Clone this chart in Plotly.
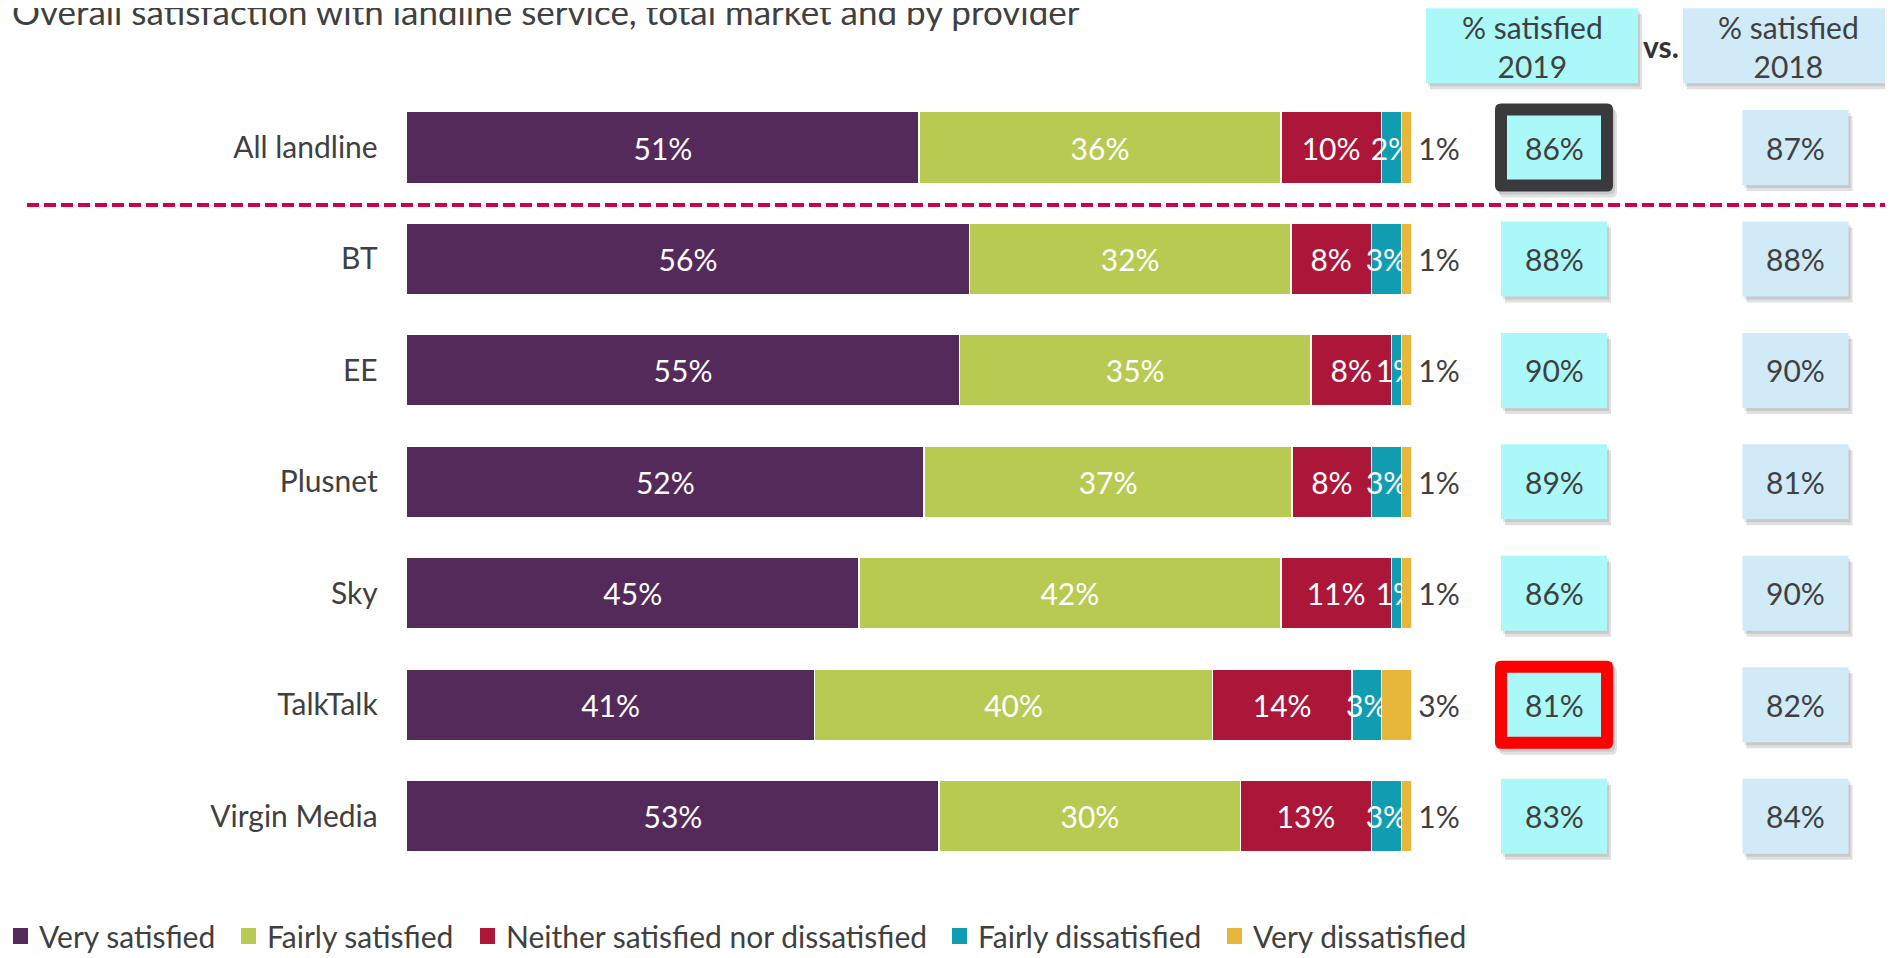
import plotly.graph_objects as go

# ---------------- data ----------------
categories = ["All landline", "BT", "EE", "Plusnet", "Sky", "TalkTalk", "Virgin Media"]
series_names = ["Very satisfied", "Fairly satisfied",
                "Neither satisfied nor dissatisfied", "Fairly dissatisfied",
                "Very dissatisfied"]
very_satisfied = [51, 56, 55, 52, 45, 41, 53]
fairly_satisfied = [36, 32, 35, 37, 42, 40, 30]
neither = [10, 8, 8, 8, 11, 14, 13]
fairly_dissatisfied = [2, 3, 1, 3, 1, 3, 3]
very_dissatisfied = [1, 1, 1, 1, 1, 3, 1]
satisfied_2019 = [86, 88, 90, 89, 86, 81, 83]
satisfied_2018 = [87, 88, 90, 81, 90, 82, 84]
highlighted = {"All landline": "#3A3A3C", "TalkTalk": "#FF0000"}

title_text = "Overall satisfaction with landline service, total market and by provider"
header_2019 = "% satisfied<br>2019"
header_2018 = "% satisfied<br>2018"

# ---------------- style ----------------
colors = ["#542A5B", "#B8CA52", "#AC1638", "#109DB1", "#E6B73A"]
FONT = "Lato"
FS = 30
DARK = "#404040"
CYAN = "#ABF8F8"
LBLUE = "#D0EAF8"
LEGEND_MARKER_LEFT = [13, 241, 480, 952, 1227]   # page pixels
LEGEND_Y = 936

# the page body has an 8px margin; the figure fills the rest of the window
OFF = 8
FW, FH = 1893 - OFF, 958 - OFF

def px_x(p):  # page pixel -> paper fraction
    return (p - OFF) / FW

def px_y(p):
    return 1 - (p - OFF) / FH

BAR_LEFT, BAR_RIGHT = 406.7, 1411.5
ROW_TOP_CENTER, ROW_STEP = 147.5, 111.45
n = len(categories)
dom_top = ROW_TOP_CENTER - ROW_STEP / 2
dom_bot = ROW_TOP_CENTER + ROW_STEP * (n - 1) + ROW_STEP / 2

fig = go.Figure()
series = [very_satisfied, fairly_satisfied, neither, fairly_dissatisfied, very_dissatisfied]
for k, (name, vals) in enumerate(zip(series_names, series)):
    last = k == len(series) - 1
    fig.add_trace(go.Bar(
        name=name, y=categories, x=vals, orientation="h",
        marker=dict(color=colors[k], line=dict(color="white", width=1.5)),
        text=[("\u2009" if last else "") + f"{v}%" for v in vals],
        textposition="outside" if last else "inside",
        insidetextanchor="middle",
        textangle=0,
        constraintext="none",
        cliponaxis=False,
        textfont=dict(family=FONT, size=FS, color=DARK if last else "white"),
        outsidetextfont=dict(family=FONT, size=FS, color=DARK),
        insidetextfont=dict(family=FONT, size=FS, color="white"),
        hoverinfo="skip",
        showlegend=False,
    ))

shapes = []
annotations = []

# legend (drawn by hand so it can sit flush left like the original)
for k, name in enumerate(series_names):
    xl = LEGEND_MARKER_LEFT[k]
    shapes.append(dict(type="rect", xref="paper", yref="paper",
                       x0=px_x(xl), x1=px_x(xl + 15),
                       y0=px_y(LEGEND_Y + 8), y1=px_y(LEGEND_Y - 8),
                       line=dict(width=0), fillcolor=colors[k]))
    annotations.append(dict(xref="paper", yref="paper", x=px_x(xl + 24), y=px_y(LEGEND_Y),
                            xanchor="left", yanchor="middle", text=name, showarrow=False,
                            font=dict(family=FONT, size=FS, color=DARK)))

# dashed separator
shapes.append(dict(type="line", xref="paper", yref="paper",
                   x0=px_x(27), x1=px_x(1886), y0=px_y(205), y1=px_y(205),
                   line=dict(color="#CC004C", width=4, dash="12px,5px")))

def dy(p):  # pixels -> data units on the category axis
    return p / ROW_STEP

SHADOWS = [(2, 3, 0.10), (4, 6, 0.12)]

def add_box(xc, w, i, half_h, fill, shadow=True):
    x0, x1 = px_x(xc - w / 2), px_x(xc + w / 2)
    if shadow:
        for ox, oy, a in SHADOWS:
            shapes.append(dict(type="rect", xref="paper", yref="y",
                               x0=x0 + ox / FW, x1=x1 + ox / FW,
                               y0=i - dy(half_h) + dy(oy), y1=i + dy(half_h) + dy(oy),
                               line=dict(width=0), fillcolor=f"rgba(0,0,0,{a})"))
    shapes.append(dict(type="rect", xref="paper", yref="y",
                       x0=x0, x1=x1, y0=i - dy(half_h), y1=i + dy(half_h),
                       line=dict(width=0), fillcolor=fill))

def rounded_path(x0, x1, y0, y1, rx, ry):
    return (f"M{x0+rx},{y0} L{x1-rx},{y0} Q{x1},{y0} {x1},{y0+ry} "
            f"L{x1},{y1-ry} Q{x1},{y1} {x1-rx},{y1} L{x0+rx},{y1} "
            f"Q{x0},{y1} {x0},{y1-ry} L{x0},{y0+ry} Q{x0},{y0} {x0+rx},{y0} Z")

C19, C18 = 1554, 1795.5
box_font = dict(family=FONT, size=FS, color=DARK)
for i, cat in enumerate(categories):
    if cat in highlighted:
        for ox, oy, a in SHADOWS:
            shapes.append(dict(type="path", xref="paper", yref="y",
                               path=rounded_path(px_x(C19 - 59 + ox), px_x(C19 + 59 + ox),
                                                 i - dy(44) + dy(oy), i + dy(44) + dy(oy),
                                                 6 / FW, dy(6)),
                               line=dict(width=0), fillcolor=f"rgba(0,0,0,{a})"))
        shapes.append(dict(type="path", xref="paper", yref="y",
                           path=rounded_path(px_x(C19 - 59), px_x(C19 + 59),
                                             i - dy(44), i + dy(44), 6 / FW, dy(6)),
                           line=dict(width=0), fillcolor=highlighted[cat]))
        add_box(C19, 94, i, 32, CYAN, shadow=False)
    else:
        add_box(C19, 106, i, 37.5, CYAN)
    add_box(C18, 106, i, 37.5, LBLUE)
    annotations.append(dict(xref="paper", yref="y", x=px_x(C19), y=i,
                            xanchor="center", yanchor="middle",
                            text=f"{satisfied_2019[i]}%", showarrow=False, font=box_font))
    annotations.append(dict(xref="paper", yref="y", x=px_x(C18), y=i,
                            xanchor="center", yanchor="middle",
                            text=f"{satisfied_2018[i]}%", showarrow=False, font=box_font))

# header boxes
for (xa, xb, fill) in [(1426, 1638, CYAN), (1683, 1893, LBLUE)]:
    for ox, oy, a in SHADOWS:
        shapes.append(dict(type="rect", xref="paper", yref="paper",
                           x0=px_x(xa + ox), x1=px_x(xb + ox),
                           y0=px_y(83.3 + oy), y1=px_y(8.3 + oy),
                           line=dict(width=0), fillcolor=f"rgba(0,0,0,{a})"))
    shapes.append(dict(type="rect", xref="paper", yref="paper",
                       x0=px_x(xa), x1=px_x(xb), y0=px_y(83.3), y1=px_y(8.3),
                       line=dict(width=0), fillcolor=fill))
annotations.append(dict(xref="paper", yref="paper", x=px_x(1532), y=px_y(46),
                        xanchor="center", yanchor="middle",
                        text=header_2019, showarrow=False, align="center", font=box_font))
annotations.append(dict(xref="paper", yref="paper", x=px_x(1788), y=px_y(46),
                        xanchor="center", yanchor="middle",
                        text=header_2018, showarrow=False, align="center", font=box_font))
annotations.append(dict(xref="paper", yref="paper", x=px_x(1661), y=px_y(46),
                        xanchor="center", yanchor="middle",
                        text="<b>vs.</b>", showarrow=False,
                        font=dict(family=FONT, size=FS, color="#333333")))
annotations.append(dict(xref="paper", yref="paper", x=px_x(10), y=px_y(11),
                        xanchor="left", yanchor="middle",
                        text=title_text, showarrow=False,
                        font=dict(family=FONT, size=35, color=DARK)))

fig.update_layout(
    width=FW, height=FH, autosize=False,
    margin=dict(l=0, r=0, t=0, b=0),
    paper_bgcolor="white", plot_bgcolor="white",
    barmode="stack", barnorm="percent", bargap=0.357,
    font=dict(family=FONT, size=FS, color=DARK),
    showlegend=False,
    xaxis=dict(domain=[px_x(BAR_LEFT), px_x(BAR_RIGHT)], range=[0, 100],
               visible=False, fixedrange=True),
    yaxis=dict(domain=[px_y(dom_bot), px_y(dom_top)], type="category",
               categoryorder="array", categoryarray=categories,
               range=[n - 0.5, -0.5], showgrid=False, showline=False,
               zeroline=False, ticks="", ticklabelstandoff=28,
               tickfont=dict(family=FONT, size=FS, color=DARK), fixedrange=True),
    shapes=shapes, annotations=annotations,
)

fig.write_html("out.html")
